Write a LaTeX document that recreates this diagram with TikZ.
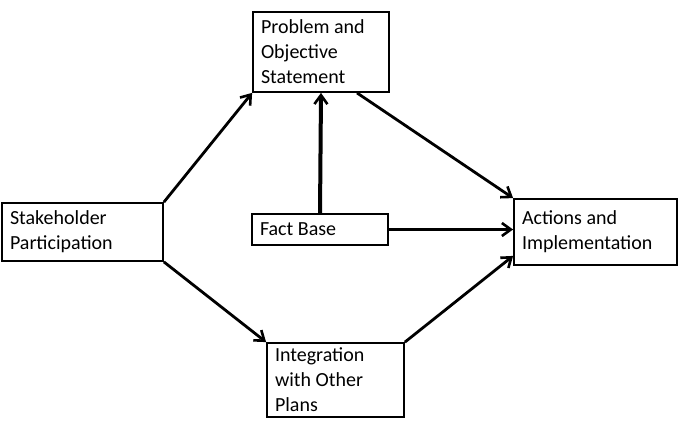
\documentclass[tikz,border=0pt]{standalone}
\usepackage{fontspec}
\setmainfont{Carlito}
\usetikzlibrary{arrows.meta,calc}
\tikzset{
  box/.style={draw, line width=1.8pt, align=flush left, inner xsep=8pt, inner ysep=0pt,
    font=\fontsize{20}{25}\selectfont, anchor=center},
  arr/.style={line width=2.8pt, -{Straight Barb[length=9pt,width=13pt,line width=2.6pt]}},
}
\begin{document}
\begin{tikzpicture}[x=1pt,y=-1pt]
\useasboundingbox (0,0) rectangle (684,428);
\node[box, text width=120pt, minimum height=80pt] (prob) at (321,52) {Problem and\\Objective\\Statement};
\node[box, text width=145pt, minimum height=58pt] (stake) at (82.5,232) {Stakeholder\\Participation};
\node[box, text width=120pt, minimum height=31pt] (fact) at (320,229.5) {Fact Base};
\node[box, text width=147pt, minimum height=66pt] (act) at (595.5,232) {Actions and\\Implementation};
\node[box, text width=121pt, minimum height=74pt] (integ) at (335.5,380) {Integration\\with Other\\Plans};
\draw[arr] (stake.north east) -- (prob.south west);
\draw[arr, line width=4pt] (fact.north) -- (prob.south);
\draw[arr] ([xshift=36pt]prob.south) -- (act.north west);
\draw[arr, line width=3.4pt] (fact.east) -- (fact.east -| act.west);
\draw[arr] (stake.south east) -- (integ.north west);
\draw[arr] (integ.north east) -- ([yshift=10pt]act.south west);
\end{tikzpicture}
\end{document}
